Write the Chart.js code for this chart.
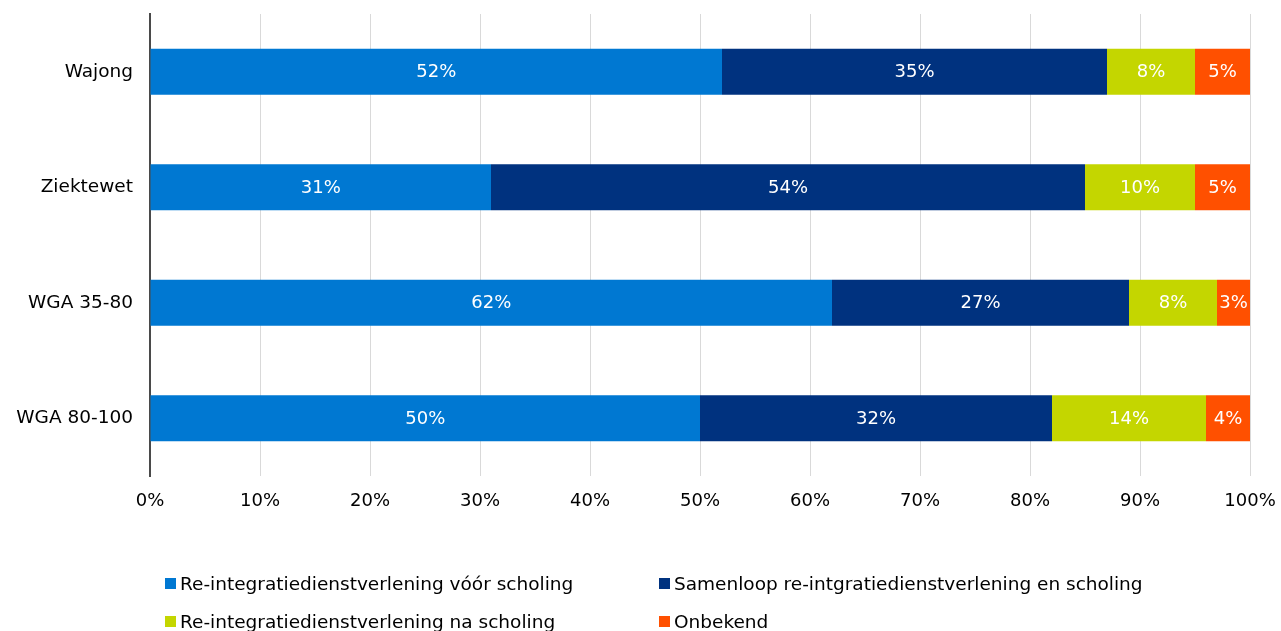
<!DOCTYPE html>
<html>
<head>
<meta charset="utf-8">
<script src="https://cdn.jsdelivr.net/npm/chart.js@4.4.1/dist/chart.umd.min.js"></script>
<style>
  html, body { margin: 0; padding: 0; background: #fff; }
  #wrap { position: relative; width: 1281px; height: 631px; overflow: hidden; }
  canvas { position: absolute; left: 0; top: 0; }
  #legend { position: absolute; left: 0; top: 0; width: 1281px; height: 631px; font-family: "DejaVu Sans", Verdana, sans-serif; font-size: 18.5px; color: #000; }
  .li { position: absolute; white-space: nowrap; height: 20px; display: flex; align-items: center; }
  .sw { display: inline-block; width: 11px; height: 11px; margin-right: 4px; flex: none; }
</style>
</head>
<body>
<div id="wrap">
  <canvas id="c" width="1281" height="631"></canvas>
  <div id="legend"></div>
</div>
<script>
const categories = ["Wajong", "Ziektewet", "WGA 35-80", "WGA 80-100"];
const seriesNames = [
  "Re-integratiedienstverlening vóór scholing",
  "Samenloop re-intgratiedienstverlening en scholing",
  "Re-integratiedienstverlening na scholing",
  "Onbekend"
];
const voorScholing = [52, 31, 62, 50];
const samenloop = [35, 54, 27, 32];
const naScholing = [8, 10, 8, 14];
const onbekend = [5, 5, 3, 4];
const seriesColors = ["#0078D2", "#00327F", "#C4D600", "#FF5000"];
const xTicks = ["0%", "10%", "20%", "30%", "40%", "50%", "60%", "70%", "80%", "90%", "100%"];

const seriesValues = [voorScholing, samenloop, naScholing, onbekend];
const FONT = '"DejaVu Sans", Verdana, sans-serif';

const labelPlugin = {
  id: 'segLabels',
  afterDatasetsDraw(chart) {
    const ctx = chart.ctx;
    ctx.save();
    ctx.font = '18px ' + FONT;
    ctx.fillStyle = '#ffffff';
    ctx.textAlign = 'center';
    ctx.textBaseline = 'middle';
    chart.data.datasets.forEach((ds, di) => {
      const meta = chart.getDatasetMeta(di);
      meta.data.forEach((bar, i) => {
        const v = ds.data[i];
        const cx = (bar.x + bar.base) / 2;
        ctx.fillText(v + '%', cx, bar.y + 1);
      });
    });
    ctx.restore();
  }
};

new Chart(document.getElementById('c'), {
  type: 'bar',
  data: {
    labels: categories,
    datasets: seriesNames.map((n, i) => ({
      label: n,
      data: seriesValues[i],
      backgroundColor: seriesColors[i],
      borderWidth: 0,
      barPercentage: 0.4,
      categoryPercentage: 1.0
    }))
  },
  options: {
    indexAxis: 'y',
    responsive: false,
    animation: false,
    layout: { padding: { top: 14, right: 31, bottom: 115, left: 0 } },
    plugins: { legend: { display: false }, tooltip: { enabled: false } },
    scales: {
      x: {
        stacked: true,
        min: 0, max: 100,
        ticks: {
          stepSize: 10,
          color: '#000',
          font: { family: FONT, size: 18 },
          padding: 15,
          callback: (v, i) => xTicks[i]
        },
        grid: { color: '#d9d9d9', lineWidth: 1, drawTicks: false },
        border: { display: false },
        afterFit: s => { s.height = 40; s.paddingLeft = 0; s.paddingRight = 0; s.paddingTop = 0; s.paddingBottom = 0; }
      },
      y: {
        stacked: true,
        ticks: { color: '#000', font: { family: FONT, size: 18.5 }, padding: 17 },
        grid: { display: false, drawTicks: false },
        border: { display: true, color: '#4a4a4a', width: 2 },
        afterFit: s => { s.width = 150; s.paddingLeft = 0; s.paddingRight = 0; s.paddingTop = 0; s.paddingBottom = 0; }
      }
    }
  },
  plugins: [labelPlugin]
});

const legend = document.getElementById('legend');
const pos = [[165, 573], [659, 573], [165, 611], [659, 611]];
seriesNames.forEach((n, i) => {
  const d = document.createElement('div');
  d.className = 'li';
  d.style.left = pos[i][0] + 'px';
  d.style.top = pos[i][1] + 'px';
  const s = document.createElement('span');
  s.className = 'sw';
  s.style.background = seriesColors[i];
  d.appendChild(s);
  d.appendChild(document.createTextNode(n));
  legend.appendChild(d);
});
</script>
</body>
</html>
